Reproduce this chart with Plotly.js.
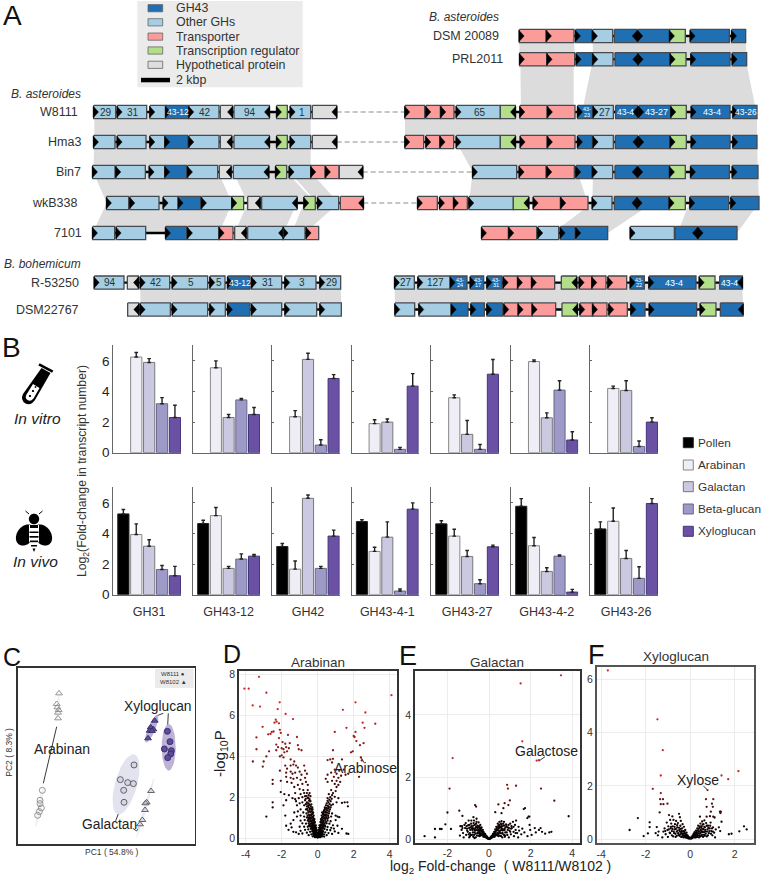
<!DOCTYPE html>
<html><head><meta charset="utf-8">
<script src="https://cdn.plot.ly/plotly-3.0.1.min.js"></script>
<style>html,body{margin:0;padding:0;background:#fff}#c{width:762px;height:878px}</style></head>
<body><div id="c"></div>
<script>
// ---------- Panel A: gene clusters [start, end, type, label, direction]
const DSM20089_R=[[415,495,'T','',1],[497,579,'T','',1],[584,632,'G','',1],[635,695,'O','',1],[700,768,'G','',-1],[771,866,'G','',1],[866,913,'R','',1],[928,1045,'G','',1],[1052,1094,'G','',1]];
const PRL2011_R=[[416,497,'T','',1],[499,581,'T','',1],[586,634,'G','',1],[636,696,'O','',1],[702,770,'G','',-1],[772,868,'G','',1],[868,915,'R','',1],[930,1047,'G','',1],[1054,1097,'G','',1]];
const W8111_L=[[281,347,'O','29',1],[352,440,'O','31',1],[450,497,'O','',1],[497,565,'G','43-12',1],[567,657,'O','42',1],[661,697,'H','',-1],[702,808,'O','94',-1],[830,862,'R','',1],[871,932,'O','1',1],[937,1010,'H','',-1]];
const W8111_R=[[72,131,'T','',1],[135,178,'T','',1],[180,219,'T','',1],[226,358,'O','65',1],[358,403,'R','',-1],[417,498,'T','',1],[500,582,'T','',1],[590,636,'G','43-<br>23',1],[637,697,'O','27',1],[704,770,'G','43-4',-1],[774,870,'G','43-27',1],[870,916,'R','',1],[931,1047,'G','43-4',1],[1056,1128,'G','43-26',1]];
const Hma3_L=[[281,345,'O','',1],[352,438,'O','',1],[450,495,'O','',1],[495,563,'G','',1],[567,657,'O','',1],[661,695,'H','',-1],[702,808,'O','',-1],[830,862,'R','',1],[871,932,'O','',1],[937,1010,'H','',-1]];
const Hma3_R=[[72,128,'T','',1],[135,176,'T','',1],[178,218,'T','',1],[226,358,'O','',1],[358,403,'R','',-1],[418,498,'T','',1],[500,582,'T','',1],[590,634,'G','',1],[637,697,'O','',1],[703,770,'G','',-1],[774,868,'G','',1],[868,916,'R','',1],[931,1047,'G','',1],[1056,1128,'G','',1]];
const Bin7_L=[[278,345,'O','',1],[348,436,'O','',1],[448,495,'O','',1],[495,560,'G','',1],[563,653,'O','',1],[658,693,'H','',-1],[700,806,'O','',-1],[827,860,'R','',1],[868,932,'O','',1],[933,975,'T','',1],[977,1017,'T','',1],[1018,1088,'H','',-1]];
const Bin7_R=[[275,407,'O','',1],[415,495,'T','',1],[498,580,'T','',1],[585,632,'G','',1],[635,695,'O','',1],[702,768,'G','',-1],[771,866,'G','',1],[866,913,'R','',1],[929,1045,'G','',1],[1054,1131,'G','',1]];
const wkB338_L=[[320,386,'O','',1],[390,477,'O','',1],[490,535,'O','',1],[535,602,'G','',1],[605,696,'O','',1],[696,731,'R','',1],[743,780,'H','',-1],[785,891,'O','',-1],[912,946,'R','',1],[953,1016,'O','',1],[1021,1090,'T','',-1]];
const wkB338_R=[[110,169,'T','',1],[176,218,'T','',1],[218,259,'T','',1],[264,397,'O','',1],[397,443,'R','',-1],[457,538,'T','',1],[540,621,'T','',1],[634,693,'O','',1],[700,767,'G','',-1],[769,865,'G','',1],[865,913,'R','',1],[927,1043,'G','',1],[1050,1134,'G','',1]];
const S7101_L=[[278,344,'O','',1],[349,437,'O','',1],[497,560,'G','',1],[563,657,'O','',1],[658,699,'T','',1],[704,738,'H','',-1],[743,850,'O','',-1],[850,915,'O','',1],[919,956,'T','',1]];
const S7101_R1=[[302,382,'T','',1],[384,467,'T','',1],[471,533,'O','',1],[538,582,'G','',1],[585,680,'G','',1]];
const S7101_R2=[[748,880,'O','',1],[883,949,'G','',-1],[952,1068,'G','',1]];
const R53250_L=[[283,372,'O','94',1],[382,415,'H','',-1],[421,509,'O','42',1],[517,623,'O','5',1],[630,675,'O','5',1],[683,750,'G','43-12',1],[755,845,'O','31',1],[855,948,'O','3',1],[960,1022,'O','29',1]];
const R53250_R=[[41,100,'O','27',1],[111,208,'O','127',1],[208,258,'G','43-<br>24',1],[268,308,'G','43-<br>17',1],[318,363,'G','43-<br>31',1],[367,410,'T','',1],[410,452,'T','',1],[452,521,'T','',1],[541,587,'R','',-1],[595,633,'T','',1],[633,675,'T','',1],[681,737,'T','',1],[748,790,'G','43-<br>22',1],[804,945,'G','43-4',1],[955,1002,'R','',1],[1016,1084,'G','43-4',-1]];
const DSM22767_L=[[383,416,'H','',-1],[421,511,'O','',1],[517,623,'O','',1],[630,676,'O','',1],[683,750,'G','',1],[755,845,'O','',1],[855,950,'O','',1],[960,1024,'O','',1]];
const DSM22767_R=[[42,101,'O','',1],[114,211,'O','',1],[211,261,'G','',1],[270,310,'G','',1],[318,365,'G','',1],[369,412,'T','',1],[412,454,'T','',1],[454,524,'T','',1],[543,589,'R','',-1],[597,635,'T','',1],[635,678,'T','',1],[684,739,'T','',1],[750,792,'G','',1],[805,947,'G','',1],[958,1005,'R','',1],[1018,1086,'G','',-1]];
const geneRows=[
 {n:'DSM 20089',y:36,nx:500,segs:[[DSM20089_R,1]]},
 {n:'PRL2011',y:59.3,nx:503.7,segs:[[PRL2011_R,1]]},
 {n:'W8111',y:112,nx:79,dash:1,segs:[[W8111_L,0],[W8111_R,1]]},
 {n:'Hma3',y:142,nx:81.7,dash:1,segs:[[Hma3_L,0],[Hma3_R,1]]},
 {n:'Bin7',y:172,nx:82,dash:1,segs:[[Bin7_L,0],[Bin7_R,1]]},
 {n:'wkB338',y:203,nx:79,dash:1,segs:[[wkB338_L,0],[wkB338_R,1]]},
 {n:'7101',y:233,nx:83,segs:[[S7101_L,0],[S7101_R1,1],[S7101_R2,1]]},
 {n:'R-53250',y:282.6,nx:80,segs:[[R53250_L,0],[R53250_R,1]]},
 {n:'DSM22767',y:309.5,nx:80,segs:[[DSM22767_L,0],[DSM22767_R,1]]}];
const geneTypes=['G','O','T','R','H'];
const geneNames=['GH43','Other GHs','Transporter','Transcription regulator','Hypothetical protein'];
const geneColors=['#1f6fb2','#a5cee4','#fb9b9a','#b3df8b','#dedede'];
// synteny bands: top row left/right and bottom row left/right
const bands=[
 [1,36,59.3,415,579,416,581],[1,36,59.3,635,1094,636,1097],
 [1,59.3,112,418,578,420,578],[1,59.3,112,636,1094,603,1126],
 [0,112,142,283,932,283,932],[1,112,142,72,1128,72,1128],
 [0,142,172,283,932,280,932],[1,142,172,226,1128,275,1131],
 [0,172,203,280,655,320,696],[0,172,203,700,860,743,946],[0,172,203,868,932,953,1016],
 [1,172,203,275,590,264,620],[1,172,203,636,1131,634,1134],
 [0,203,233,320,696,278,657],[0,203,233,743,891,704,850],[0,203,233,912,1016,875,915],
 [1,203,233,634,815,515,680],[1,203,233,925,1134,890,1068],
 [0,282.6,309.5,421,1022,421,1024],[1,282.6,309.5,41,1084,42,1086]];

// ---------- Panel B: bar heights and top of error whiskers
const substrates=['Pollen','Arabinan','Galactan','Beta-glucan','Xyloglucan'];
const barColors=['#000000','#efedf5','#cbc9e2','#9e9ac8','#6a51a3'];
const barEdges=['#222222','#888888','#777777','#66668a','#43357a'];
const genesB=['GH31','GH43-12','GH42','GH43-4-1','GH43-27','GH43-4-2','GH43-26'];
const vitroGH31=[null,6.25,5.9,3.2,2.3],vitroGH31top=[null,6.55,6.15,3.6,3.1];
const vitroGH4312=[null,5.55,2.3,3.45,2.5],vitroGH4312top=[null,6.0,2.5,3.55,2.95];
const vitroGH42=[null,2.35,6.1,0.5,4.85],vitroGH42top=[null,2.75,6.5,0.85,5.1];
const vitroGH4341=[null,1.9,2.0,0.22,4.35],vitroGH4341top=[null,2.15,2.2,0.35,5.17];
const vitroGH4327=[null,3.59,1.2,0.22,5.13],vitroGH4327top=[null,3.78,2.1,0.54,6.09];
const vitroGH4342=[null,5.96,2.28,4.09,0.83],vitroGH4342top=[null,6.07,2.6,4.7,1.37];
const vitroGH4326=[null,4.2,4.07,0.41,2.0],vitroGH4326top=[null,4.35,4.7,0.76,2.28];
const vivoGH31=[5.28,3.93,3.17,1.65,1.24],vivoGH31top=[5.57,4.63,3.59,1.91,1.85];
const vivoGH4312=[4.65,5.17,1.72,2.33,2.52],vivoGH4312top=[4.87,5.7,1.85,2.67,2.63];
const vivoGH42=[3.15,1.67,6.3,1.72,3.83],vivoGH42top=[3.35,2.2,6.52,1.85,4.22];
const vivoGH4341=[4.78,2.83,3.76,0.24,5.59],vivoGH4341top=[4.91,3.1,4.76,0.37,6.0];
const vivoGH4327=[4.63,3.83,2.5,0.72,3.13],vivoGH4327top=[4.83,4.28,2.89,0.98,3.24];
const vivoGH4342=[5.78,3.2,1.52,2.52,0.17],vivoGH4342top=[6.28,3.74,1.76,2.6,0.35];
const vivoGH4326=[4.3,4.8,2.37,1.07,5.96],vivoGH4326top=[4.76,5.67,2.89,1.83,6.28];
const vitroVals=[vitroGH31,vitroGH4312,vitroGH42,vitroGH4341,vitroGH4327,vitroGH4342,vitroGH4326];
const vitroTops=[vitroGH31top,vitroGH4312top,vitroGH42top,vitroGH4341top,vitroGH4327top,vitroGH4342top,vitroGH4326top];
const vivoVals=[vivoGH31,vivoGH4312,vivoGH42,vivoGH4341,vivoGH4327,vivoGH4342,vivoGH4326];
const vivoTops=[vivoGH31top,vivoGH4312top,vivoGH42top,vivoGH4341top,vivoGH4327top,vivoGH4342top,vivoGH4326top];
const barPanelsPx=[[113.3,181],[193.3,260],[272.3,339.7],[352,418.7],[431.3,499],[511.3,578.3],[590.3,658]];

// ---------- Panel C: PCA scores
const arabinanTri=[[177,190],[170,222],[172,232],[176,240],[174,248],[174,265]];
const arabinanCirc=[[127,481],[120,511],[120,521],[124,534],[118,545],[113,556]];
const galactanCirc=[[402,405],[361,449],[383,458],[400,461],[371,481],[372,517]];
const galactanTri=[[453,483],[440,517],[436,520],[435,540],[427,570],[420,583]];
const xyloCirc=[[502,304],[510,335],[493,357],[514,362],[512,372],[503,383]];
const xyloTri=[[464,272],[452,292],[460,298],[449,302],[456,303],[444,325]];
// centre x, centre y, semi-major, semi-minor, tilt degrees
const pcaEllipses=[[378,463,93,33,15.7,'#e3e3ef'],[436,533,93,5,16.5,'#ececf5'],[506,352,70,21,0,'#bdb3d6'],[455,296,45,11,23,'#b9afd3'],[174,228,48,4,5,'#f1f1f1'],[119,530,62,6,11,'#f1f1f1']];

// ---------- Panels D-F: volcano points [log2FC, -log10P]
const arabinanVolcano=[[-3.26,7.9],[-4.07,7.32],[-3.83,7.32],[-2.85,7.12],[-3.61,6.5],[-3.2,6.44],[-2.11,6.65],[-2.22,6.32],[-1.78,6.08],[-1.37,5.83],[-2.33,5.8],[-2.28,5.7],[-2.4,5.65],[-2.15,5.62],[-3.06,5.45],[-2.1,5.3],[-2.05,5.15],[-2.55,5.2],[-2.45,5.22],[-2.75,5.08],[-3.4,4.93],[-2.62,5.1],[-1.65,5.05],[-1.15,4.95],[-3.4,4.35],[-2.15,4.9],[-1.95,4.7],[-1.8,4.62],[-1.55,4.65],[-2.3,4.58],[-2.2,4.45],[-2.0,4.4],[-1.9,4.35],[-1.75,4.45],[-1.6,4.4],[-1.1,4.55],[-1.05,4.35],[-0.9,4.3],[-2.3,4.3],[-1.85,4.2],[-1.7,4.25],[-2.7,4.25],[-2.85,4.0],[-3.0,3.75],[-3.6,3.75],[-3.05,3.5],[-2.1,4.0],[-2.0,4.05],[-1.9,3.95],[-1.5,3.85],[-1.3,3.75],
[-1.8,3.55],[-1.7,3.4],[-1.5,3.55],[-1.35,3.6],[-1.2,3.55],[-1.1,3.45],[-0.75,3.55],[-0.7,3.3],[-2.1,3.3],[-1.75,3.2],[-1.5,3.25],[-1.4,3.15],[-1.25,3.2],[-1.0,3.25],[-0.9,3.1],[-0.6,3.15],[-1.75,3.0],[-1.5,2.95],[-1.35,2.9],[-1.15,2.95],[-0.95,2.85],[-0.7,2.95],[-2.5,2.85],[-2.5,2.65],[-2.05,2.8],[-1.7,2.75],[-1.45,2.7],[-1.1,2.6],[-0.85,2.65],[-0.65,2.75],[-0.55,2.6],[-1.3,2.5],[-1.0,2.4],[-0.8,2.35],[-0.55,2.35],[-0.45,2.2],[-2.05,2.25],[-1.85,2.15],[-1.6,2.1],[-1.25,2.2],[-0.95,2.15],[-0.75,2.2],[-0.6,2.2],[-0.5,2.1],[-1.4,1.95],[-1.25,1.9],[-1.05,1.95],[-0.85,2.0],[-0.7,2.05],[-0.55,1.95],[-0.45,1.9],[-0.4,2.05],
[-2.5,1.75],[-2.5,1.5],[-1.9,1.6],[-1.75,1.85],[-1.2,1.8],[-1.15,1.6],[-1.0,1.7],[-0.85,1.75],[-0.7,1.85],[-0.6,1.75],[-0.5,1.7],[-0.4,1.8],[-0.35,1.65],[-0.75,1.6],[-0.6,1.55],[-0.5,1.5],[-0.42,1.45],[-0.3,1.5],[-0.95,1.4],[-0.65,1.4],[-0.55,1.35],[-0.45,1.3],[-0.35,1.3],[-0.28,1.4],[-1.3,1.25],[-1.1,1.3],[-0.8,1.25],[-0.62,1.2],[-0.5,1.15],[-0.4,1.15],[-0.3,1.2],[-0.25,1.25],[-2.85,1.05],[-1.8,1.1],[-1.15,1.05],[-0.95,1.1],[-0.75,1.05],[-0.6,1.0],[-0.48,1.0],[-0.38,1.0],[-0.3,1.05],[-0.22,1.1],
[-1.35,0.88],[-0.95,0.85],[-0.72,0.88],[-0.55,0.85],[-0.42,0.88],[-0.32,0.85],[-0.24,0.9],[-0.18,0.92],[-1.5,0.7],[-0.85,0.72],[-0.65,0.7],[-0.5,0.72],[-0.38,0.7],[-0.28,0.72],[-0.2,0.75],[-0.15,0.78],[-1.75,0.6],[-1.45,0.52],[-1.0,0.55],[-0.75,0.55],[-0.55,0.55],[-0.42,0.56],[-0.3,0.58],[-0.22,0.6],[-0.15,0.6],[-0.1,0.62],[-1.62,0.4],[-1.35,0.3],[-1.2,0.28],[-0.95,0.35],[-0.7,0.4],[-0.52,0.42],[-0.38,0.45],[-0.26,0.46],[-0.18,0.45],[-0.12,0.48],[-0.08,0.5],[-1.05,0.2],[-0.85,0.22],[-0.6,0.26],[-0.42,0.3],[-0.3,0.32],[-0.2,0.32],[-0.14,0.34],[-0.09,0.36],[-0.05,0.38],[-0.5,0.14],[-0.35,0.18],[-0.25,0.2],[-0.18,0.22],[-0.12,0.22],[-0.07,0.24],[-0.03,0.26],[-0.28,0.08],[-0.2,0.1],[-0.14,0.12],[-0.09,0.13],[-0.05,0.14],[-0.02,0.16],[-0.15,0.04],[-0.1,0.05],[-0.06,0.06],[-0.03,0.07],[-0.01,0.03],
[0.01,0.03],[0.03,0.07],[0.06,0.06],[0.1,0.05],[0.15,0.04],[0.02,0.15],[0.05,0.14],[0.09,0.13],[0.14,0.12],[0.2,0.1],[0.28,0.08],[0.36,0.07],[0.03,0.26],[0.07,0.24],[0.12,0.22],[0.18,0.22],[0.25,0.2],[0.35,0.18],[0.5,0.14],[0.05,0.38],[0.09,0.36],[0.14,0.34],[0.2,0.32],[0.3,0.3],[0.42,0.28],[0.6,0.24],[0.8,0.2],[0.08,0.5],[0.12,0.48],[0.18,0.45],[0.26,0.46],[0.38,0.44],[0.52,0.4],[0.7,0.38],[0.95,0.32],[1.15,0.25],[1.6,0.22],[1.7,0.2],[0.1,0.62],[0.15,0.6],[0.22,0.6],[0.3,0.58],[0.42,0.56],[0.55,0.54],[0.75,0.5],[0.9,0.46],[1.35,0.45],[0.15,0.78],[0.2,0.75],[0.28,0.72],[0.38,0.7],[0.5,0.72],[0.65,0.7],[0.85,0.62],[1.1,0.6],[0.18,0.92],[0.24,0.9],[0.32,0.85],[0.42,0.88],[0.55,0.85],[0.72,0.82],[1.0,0.88],[0.22,1.1],[0.3,1.05],[0.38,1.0],[0.48,1.0],[0.6,1.0],[0.75,1.05],[1.0,1.1],[1.1,1.05],[1.2,1.02],[0.25,1.25],[0.3,1.2],[0.4,1.15],[0.5,1.15],[0.62,1.2],[0.8,1.2],[0.35,1.35],[0.45,1.3],[0.55,1.35],[0.68,1.4],[0.4,1.5],[0.5,1.48],[0.62,1.52],[0.75,1.6],[1.35,1.72],[1.5,1.75],[1.65,1.75],[1.68,1.55],[0.5,1.7],[0.6,1.75],[0.72,1.8],[0.85,1.65],[1.05,1.75],[0.55,1.95],[0.7,2.0],[0.8,2.1],[0.95,2.02],[1.15,1.95],[0.62,2.15],[0.85,2.2],[1.0,2.3],[0.75,2.35],[1.05,2.5],[1.15,2.6],[0.95,2.65],[1.25,2.75],[1.05,2.8],[0.8,2.8],[0.55,2.75],[0.45,2.9],[1.15,2.95],[0.9,3.0],[1.3,3.05],[1.55,3.1],[1.7,3.15],[2.3,3.0],[1.05,3.15],[0.75,3.2],[0.55,3.1],[0.95,3.35],[1.2,3.3],[1.45,3.35],[0.8,3.7],[0.55,3.82],[0.7,3.85],[0.85,3.88],[1.35,3.85],[2.4,3.95],[2.45,3.8],[1.85,4.2],[1.95,4.25],[0.85,4.3],[2.35,4.55],[2.15,4.75],[2.05,4.95],[2.1,5.2],[2.0,5.0],[0.95,5.2],[1.6,5.4],[2.55,4.65],[2.5,5.65],[2.6,5.4],[3.2,5.6],[2.65,6.15],[1.4,6.28],[2.1,6.65],[4.1,7.0]];
const arabinanVCore=[[-0.62,2.05],[-0.52,1.98],[-0.66,1.92],[-0.48,1.82],[-0.56,1.68],[-0.44,1.62],[-0.66,1.66],[-0.38,1.55],[-0.52,1.58],[-0.34,1.42],[-0.44,1.4],[-0.58,1.44],[-0.32,1.32],[-0.4,1.28],[-0.52,1.26],[-0.28,1.18],[-0.36,1.12],[-0.44,1.08],[-0.56,1.08],[-0.25,1.02],[-0.33,0.96],[-0.42,0.95],[-0.52,0.92],[-0.22,0.94],[-0.28,0.86],[-0.37,0.82],[-0.47,0.8],[-0.2,0.84],[-0.25,0.78],[-0.33,0.74],[-0.44,0.66],[-0.18,0.7],[-0.23,0.66],[-0.3,0.64],[-0.36,0.6],[-0.48,0.6],[-0.17,0.58],[-0.2,0.52],[-0.27,0.52],[-0.34,0.5],[-0.13,0.54],[-0.16,0.48],[-0.22,0.42],[-0.3,0.4],[-0.11,0.42],[-0.16,0.38],[-0.2,0.36],[-0.26,0.34],[-0.08,0.3],[-0.13,0.28],[-0.18,0.27],[-0.23,0.26],[-0.05,0.2],[-0.09,0.18],[-0.15,0.17],[-0.21,0.15],[-0.04,0.1],[-0.08,0.09],[-0.12,0.08],[-0.18,0.07],
[0.04,0.1],[0.08,0.09],[0.12,0.08],[0.18,0.07],[0.05,0.2],[0.1,0.18],[0.15,0.17],[0.22,0.15],[0.08,0.3],[0.13,0.28],[0.18,0.27],[0.24,0.26],[0.11,0.42],[0.16,0.38],[0.22,0.36],[0.28,0.36],[0.13,0.54],[0.18,0.52],[0.25,0.5],[0.33,0.48],[0.17,0.66],[0.23,0.65],[0.31,0.64],[0.4,0.62],[0.2,0.84],[0.26,0.8],[0.34,0.78],[0.46,0.78],[0.24,1.0],[0.32,0.95],[0.42,0.95],[0.54,0.94],[0.29,1.16],[0.36,1.1],[0.46,1.08],[0.58,1.08],[0.34,1.28],[0.42,1.24],[0.52,1.24],[0.64,1.3],[0.4,1.42],[0.48,1.4],[0.58,1.44],[0.72,1.5],[0.46,1.6],[0.56,1.58],[0.66,1.66],[0.55,1.82],[0.65,1.88],[0.78,1.92]];
const galactanVolcano=[[3.46,5.27],[1.52,5.01],[1.6,3.15],[-1.75,2.61],[2.29,2.53],[2.4,2.54],[-1.9,1.63],[0.87,1.75],[0.91,1.63],[1.3,1.72],[2.5,1.63],[3.14,1.24],[3.83,0.74],[1.0,1.25],[0.75,1.16],[0.93,1.1],[0.45,1.12],[0.69,1.0],[-0.67,1.1],[-0.62,1.05],[-1.43,0.92],[-2.0,0.86],[1.73,1.0],[1.67,0.97],[0.3,0.87],[-1.28,0.75],[0.6,0.84],[-0.75,0.71],[1.9,0.73],[1.94,0.73],[1.84,0.68],[-2.1,0.48],[-2.6,0.33],[-2.36,0.33],[-2.28,0.33],[-1.83,0.33],[-3.1,0.1],[-2.6,0.06],
[-1.4,0.12],[-1.32,0.3],[-1.3,0.42],[-1.25,0.2],[-1.22,0.06],[-1.15,0.36],[-1.12,0.52],[-1.1,0.14],[-1.05,0.28],[-1.0,0.45],[-0.98,0.6],[-0.95,0.06],[-0.92,0.2],[-0.9,0.38],[-0.86,0.5],[-0.85,0.6],[-0.82,0.14],[-0.8,0.3],[-0.76,0.44],[-0.72,0.6],[-0.7,0.04],[-0.7,0.22],[-0.66,0.36],[-0.62,0.5],[-0.6,0.66],[-0.58,0.12],[-0.55,0.28],[-0.52,0.4],[-0.5,0.54],[-0.48,0.2],[-0.45,0.34],[-0.42,0.46],[-0.4,0.12],[-0.38,0.26],[-0.36,0.38],[-0.33,0.2],[-0.3,0.3],[-0.28,0.12],[-0.26,0.22],[-0.22,0.16],[-0.2,0.08],[-0.18,0.14],[-0.15,0.06],[-0.12,0.1],[-0.1,0.04],[-0.07,0.05],[-0.04,0.02],[-0.02,0.01],
[0.02,0.01],[0.04,0.02],[0.07,0.05],[0.1,0.04],[0.12,0.1],[0.15,0.06],[0.18,0.14],[0.2,0.08],[0.22,0.18],[0.25,0.24],[0.28,0.12],[0.3,0.32],[0.32,0.2],[0.35,0.4],[0.38,0.28],[0.4,0.12],[0.42,0.5],[0.45,0.36],[0.48,0.2],[0.5,0.56],[0.52,0.42],[0.55,0.28],[0.58,0.1],[0.6,0.48],[0.62,0.34],[0.65,0.2],[0.7,0.44],[0.72,0.56],[0.75,0.3],[0.78,0.12],[0.82,0.48],[0.85,0.22],[0.9,0.38],[0.95,0.06],[0.98,0.28],[1.02,0.5],[1.05,0.16],[1.1,0.36],[1.15,0.56],[1.18,0.24],[1.2,0.1],[1.25,0.46],[1.28,0.3],[1.3,0.6],[1.35,0.2],[1.4,0.06],[1.42,0.4],[1.45,0.28],[1.55,0.16],[1.6,0.34],[1.7,0.22],[1.85,0.1],[1.95,0.46],[1.98,0.3],[2.05,0.14],[2.2,0.36],[2.25,0.22],[2.4,0.3],[2.48,0.36],[2.55,0.24],[2.7,0.18],[2.9,0.22],[3.0,0.24]];
const galactanVCore=[[-1.38,0.42],[-1.28,0.36],[-1.18,0.46],[-1.08,0.42],[-1.06,0.34],[-1.02,0.24],[-0.96,0.36],[-0.94,0.46],[-0.9,0.3],[-0.88,0.14],[-0.84,0.42],[-0.8,0.38],[-0.78,0.22],[-0.74,0.52],[-0.74,0.34],[-0.72,0.14],[-0.68,0.46],[-0.66,0.28],[-0.64,0.18],[-0.62,0.4],[-0.6,0.56],[-0.6,0.3],[-0.56,0.44],[-0.56,0.2],[-0.54,0.36],[-0.52,0.12],[-0.5,0.3],[-0.48,0.42],[-0.47,0.26],[-0.44,0.38],[-0.44,0.16],[-0.42,0.3],[-0.4,0.2],[-0.38,0.34],[-0.36,0.14],[-0.35,0.28],[-0.32,0.26],[-0.3,0.16],[-0.28,0.24],[-0.27,0.08],[-0.24,0.18],[-0.24,0.1],[-0.21,0.12],[-0.19,0.17],[-0.17,0.08],[-0.16,0.11],[-0.13,0.07],[-0.11,0.06],[-0.09,0.07],[-0.06,0.03],[-0.5,0.22],[-0.46,0.1],[-0.58,0.38],[-0.64,0.06],[-0.7,0.3],[-0.76,0.08],[-0.82,0.34],[-0.92,0.1],[-0.98,0.16],
[0.06,0.03],[0.09,0.07],[0.11,0.06],[0.13,0.07],[0.16,0.11],[0.17,0.08],[0.19,0.17],[0.21,0.12],[0.24,0.1],[0.24,0.18],[0.27,0.08],[0.28,0.24],[0.3,0.16],[0.32,0.26],[0.35,0.3],[0.36,0.14],[0.38,0.36],[0.4,0.2],[0.42,0.3],[0.44,0.16],[0.44,0.42],[0.47,0.28],[0.48,0.46],[0.5,0.36],[0.52,0.12],[0.54,0.4],[0.56,0.2],[0.56,0.5],[0.6,0.3],[0.6,0.58],[0.62,0.42],[0.64,0.18],[0.66,0.28],[0.68,0.5],[0.72,0.14],[0.74,0.34],[0.74,0.44],[0.78,0.22],[0.8,0.38],[0.84,0.42],[0.88,0.14],[0.9,0.3],[0.94,0.46],[0.96,0.36],[1.02,0.24],[1.06,0.34],[1.08,0.42],[1.18,0.4],[1.28,0.2],[0.5,0.24],[0.46,0.1],[0.58,0.38],[0.64,0.06],[0.7,0.3],[0.76,0.08]];
const xyloVolcano=[[-3.7,6.34],[-1.47,4.5],[-1.23,3.34],[-1.32,2.39],[-1.68,1.89],[-1.32,1.73],[-1.35,1.5],[-1.22,1.5],[-1.32,1.31],[-1.2,1.31],[-1.02,1.33],[-1.37,1.0],[-2.35,0.79],[-1.82,0.63],[-1.82,0.45],[-2.72,0.34],[-1.9,0.21],[-2.09,0.11],[2.17,2.55],[1.41,2.39],[1.71,2.25],[0.78,1.84],[0.71,1.5],[1.04,1.5],[0.98,1.33],[0.74,1.21],[1.02,1.21],[0.93,1.03],[1.34,1.03],[1.38,1.03],[1.36,0.98],[1.04,0.84],[1.1,0.81],[0.74,0.84],[0.89,0.86],[0.44,0.84],[2.42,0.48],[2.54,0.36],[2.21,0.29],[1.86,0.2],[1.74,0.18],[1.41,0.65],[1.29,0.44],[1.35,0.3],
[-1.5,0.45],[-1.55,0.22],[-1.45,0.14],[-1.42,0.28],[-1.25,0.06],[-1.2,0.28],[-1.15,0.4],[-1.1,0.18],[-1.05,0.62],[-1.02,0.34],[-1.0,0.08],[-0.98,0.48],[-0.95,0.9],[-0.92,0.24],[-0.9,0.72],[-0.88,0.4],[-0.85,0.58],[-0.82,0.14],[-0.82,0.3],[-0.8,0.85],[-0.78,0.48],[-0.75,0.72],[-0.72,0.22],[-0.7,0.36],[-0.68,0.56],[-0.65,0.08],[-0.63,0.68],[-0.6,0.28],[-0.58,0.44],[-0.55,0.6],[-0.52,0.16],[-0.5,0.95],[-0.48,0.34],[-0.46,0.82],[-0.44,0.5],[-0.42,0.68],[-0.4,0.24],[-0.38,0.08],[-0.36,0.4],[-0.34,0.56],[-0.32,0.16],[-0.3,0.3],[-0.28,0.46],[-0.26,0.1],[-0.24,0.22],[-0.22,0.34],[-0.2,0.06],[-0.18,0.16],[-0.16,0.24],[-0.14,0.08],[-0.12,0.14],[-0.1,0.04],[-0.08,0.08],[-0.06,0.03],[-0.04,0.05],[-0.02,0.02],
[0.02,0.02],[0.04,0.05],[0.06,0.03],[0.08,0.08],[0.1,0.05],[0.12,0.14],[0.14,0.08],[0.16,0.2],[0.18,0.12],[0.2,0.26],[0.22,0.06],[0.24,0.18],[0.26,0.32],[0.28,0.1],[0.3,0.24],[0.32,0.4],[0.34,0.14],[0.36,0.5],[0.38,0.3],[0.4,0.06],[0.42,0.42],[0.44,0.2],[0.46,0.58],[0.48,0.34],[0.5,0.12],[0.52,0.48],[0.54,0.66],[0.56,0.26],[0.58,0.38],[0.6,0.56],[0.62,0.16],[0.64,0.7],[0.66,0.44],[0.68,0.28],[0.72,0.6],[0.75,0.1],[0.78,0.36],[0.8,0.5],[0.84,0.22],[0.88,0.4],[0.92,0.62],[0.95,0.3],[1.0,0.14],[1.03,0.44],[1.08,0.24],[1.12,0.06],[1.15,0.36]];
const xyloVCore=[[-1.12,0.3],[-0.96,0.36],[-0.9,0.22],[-0.86,0.46],[-0.8,0.38],[-0.76,0.1],[-0.74,0.28],[-0.7,0.46],[-0.66,0.2],[-0.64,0.38],[-0.6,0.12],[-0.58,0.52],[-0.56,0.32],[-0.54,0.22],[-0.5,0.42],[-0.48,0.12],[-0.46,0.28],[-0.44,0.18],[-0.42,0.38],[-0.4,0.08],[-0.38,0.3],[-0.36,0.2],[-0.34,0.12],[-0.32,0.28],[-0.3,0.06],[-0.28,0.2],[-0.26,0.28],[-0.24,0.12],[-0.22,0.07],[-0.2,0.18],[-0.18,0.1],[-0.16,0.05],[-0.14,0.13],[-0.12,0.07],[-0.1,0.1],[-0.08,0.03],[-0.06,0.05],
[0.06,0.05],[0.08,0.03],[0.1,0.1],[0.12,0.07],[0.14,0.14],[0.16,0.06],[0.18,0.18],[0.2,0.1],[0.22,0.22],[0.24,0.12],[0.26,0.06],[0.28,0.26],[0.3,0.18],[0.32,0.32],[0.34,0.08],[0.36,0.22],[0.38,0.38],[0.4,0.14],[0.42,0.28],[0.44,0.48],[0.46,0.1],[0.48,0.24],[0.5,0.42],[0.52,0.3],[0.54,0.16],[0.56,0.54],[0.58,0.08],[0.6,0.36],[0.62,0.26],[0.64,0.46],[0.66,0.12],[0.68,0.34],[0.7,0.2],[0.74,0.5],[0.76,0.28],[0.8,0.14],[0.82,0.42],[0.86,0.3],[0.9,0.5],[0.94,0.2],[0.98,0.4],[1.02,0.28]];

// ---------- page helpers
const W=762,H=878;
const xDom=(a,b)=>[a/W,b/W], yDom=(top,bot)=>[1-bot/H,1-top/H];
const traces=[],annotations=[],shapes=[];
const layout={width:W,height:H,margin:{l:0,r:0,t:0,b:0},paper_bgcolor:'#fff',plot_bgcolor:'rgba(0,0,0,0)',showlegend:false,
 font:{family:'"Liberation Sans",Arial,sans-serif',color:'#222'},
 xaxis:{domain:[0,1],range:[0,W],visible:false,fixedrange:true},
 yaxis:{domain:[0,1],range:[H,0],visible:false,fixedrange:true}};
const txt=(x,y,text,size,o={})=>annotations.push(Object.assign({xref:'x',yref:'y',x,y,text,showarrow:false,xanchor:'center',yanchor:'middle',font:{size,color:o.color||'#222'},borderpad:0},o.a||{}));

// ---------- Panel A drawing
const px=(z,side)=>(z+(side?1143:0))/3;
const bandX=[],bandY=[];
bands.forEach(([s,y0,y1,a,b,c,d])=>{bandX.push(px(a,s),px(b,s),px(d,s),px(c,s),px(a,s),null);bandY.push(y0,y0,y1,y1,y0,null);});
traces.push({x:bandX,y:bandY,mode:'lines',fill:'toself',fillcolor:'#dcdcdc',line:{width:0},hoverinfo:'skip'});
const linkX=[],linkY=[],dashX=[],dashY=[],triX=[],triY=[];
const byType={};geneTypes.forEach(t=>byType[t]={x:[],y:[]});
geneRows.forEach(r=>{
 txt(r.nx,r.y,r.n,12.5,{a:{xanchor:'right'},color:'#333'});
 r.segs.forEach(([genes,side])=>{
  linkX.push(px(genes[0][0],side),px(genes[genes.length-1][1],side),null);linkY.push(r.y,r.y,null);
  genes.forEach(([a,b,t,label,dir])=>{
   const x0=px(a,side),x1=px(b,side),h=6.6;
   byType[t].x.push(x0,x1,x1,x0,x0,null);byType[t].y.push(r.y-h,r.y-h,r.y+h,r.y+h,r.y-h,null);
   const base=dir>0?x0:x1;
   triX.push(base-dir*0.5,base+dir*4.8,base-dir*0.5,base-dir*0.5,null);triY.push(r.y-5.8,r.y,r.y+5.8,r.y-5.8,null);
   if(label){
    const cx=(x0+x1)/2+dir*1.2,col=t==='G'?'#fff':'#233';
    if(label.includes('<br>')){
     const [l1,l2]=label.split('<br>');
     txt(cx,r.y-2.8,l1,5.5,{color:col});txt(cx,r.y+2.8,l2,5.5,{color:col});
    }else{
     txt(cx,r.y,label,label.startsWith('43')?((x1-x0)<26?8.5:9):10,{color:col});
    }
   }
  });
 });
 if(r.dash){const [a,b]=r.segs;dashX.push(px(a[0][a[0].length-1][1],a[1]),px(b[0][0][0],b[1]),null);dashY.push(r.y,r.y,null);}
});
traces.push({x:linkX,y:linkY,mode:'lines',line:{color:'#000',width:2.4},hoverinfo:'skip'});
traces.push({x:dashX,y:dashY,mode:'lines',line:{color:'#8a8a8a',width:1.1,dash:'5px,3px'},hoverinfo:'skip'});
geneTypes.forEach((t,i)=>traces.push({x:byType[t].x,y:byType[t].y,mode:'lines',fill:'toself',fillcolor:geneColors[i],line:{color:'#454a50',width:1.3},name:geneNames[i],hoverinfo:'skip'}));
traces.push({x:triX,y:triY,mode:'lines',fill:'toself',fillcolor:'#000',line:{color:'#000',width:0.5},hoverinfo:'skip'});
// legend of A
shapes.push({type:'rect',xref:'x',yref:'y',x0:137.3,x1:302.7,y0:1,y1:87.3,fillcolor:'#ebebeb',line:{width:0},layer:'below'});
[8.2,22.3,36.6,50.5,64.8].forEach((y,i)=>{
 shapes.push({type:'rect',xref:'x',yref:'y',x0:148,x1:162.7,y0:y-3.6,y1:y+3.6,fillcolor:geneColors[i],line:{color:'#666',width:0.8}});
 txt(175,y,geneNames[i],12.4,{a:{xanchor:'left'},color:'#333'});
});
shapes.push({type:'rect',xref:'x',yref:'y',x0:141,x1:170,y0:77.8,y1:82.3,fillcolor:'#000',line:{width:0}});
txt(175,80,'2 kbp',12.4,{a:{xanchor:'left'},color:'#333'});
txt(10,94.3,'<i>B. asteroides</i>',12,{a:{xanchor:'left'},color:'#333'});
txt(427.7,17,'<i>B. asteroides</i>',12,{a:{xanchor:'left'},color:'#333'});
txt(2.7,263.5,'<i>B. bohemicum</i>',12,{a:{xanchor:'left'},color:'#333'});

// ---------- Panel B drawing
let axN=2;
function barPanel(vals,tops,iPanel,top,bot,isBottom){
 const n=axN++, [a,b]=barPanelsPx[iPanel];
 const ax=n;
 layout['xaxis'+ax]={domain:xDom(a,b),anchor:'y'+ax,range:[-0.78,4.47],showline:true,linecolor:'#666',linewidth:1,showgrid:false,zeroline:false,fixedrange:true,
   tickmode:'array',tickvals:isBottom?[2]:[],ticktext:isBottom?[genesB[iPanel]]:[],showticklabels:isBottom,ticks:isBottom?'outside':'',ticklen:5,tickcolor:'rgba(0,0,0,0)',tickfont:{size:12.5,color:'#333'}};
 const yax={domain:yDom(top,bot),anchor:'x'+ax,range:[0,(bot-top)/15.3],showline:true,linecolor:'#666',linewidth:1,showgrid:false,zeroline:false,fixedrange:true,
   tickmode:'array',tickvals:[0,2,4,6],ticks:iPanel===0?'':'inside',ticklen:2,tickwidth:1,tickcolor:'#666',tickfont:{size:13.5,color:'#222'},showticklabels:iPanel===0};
 if(iPanel===0)yax.ticktext=['0','2','4','6'];
 layout['yaxis'+ax]=yax;
 traces.push({type:'bar',x:[0,1,2,3,4],y:vals,xaxis:'x'+ax,yaxis:'y'+ax,width:0.87,marker:{color:barColors,line:{color:barEdges,width:1}},
   error_y:{type:'data',symmetric:false,array:tops.map((t,i)=>t==null?null:t-vals[i]),arrayminus:[0,0,0,0,0],color:'#222',thickness:1.4,width:1.8},hoverinfo:'skip'});
}
genesB.forEach((g,i)=>barPanel(vitroVals[i],vitroTops[i],i,345,452.7,false));
genesB.forEach((g,i)=>barPanel(vivoVals[i],vivoTops[i],i,487.3,594.7,true));
annotations.push({xref:'x',yref:'y',x:83,y:471,text:'Log<sub>2</sub>(Fold-change in transcript number)',textangle:-90,showarrow:false,font:{size:12.2,color:'#333'}});
[442.7,465,486.7,509,531.3].forEach((y,i)=>{
 shapes.push({type:'rect',xref:'x',yref:'y',x0:683.3,x1:693.3,y0:y-5,y1:y+5,fillcolor:barColors[i],line:{color:barEdges[i],width:1}});
 txt(696.7,y,substrates[i],11.8,{a:{xanchor:'left'},color:'#333'});
});
txt(37,418,'<i>In vitro</i>',15.5,{color:'#222'});
txt(35,561.7,'<i>In vivo</i>',15.5,{color:'#222'});
// icons
const ellipsePath=(cx,cy,a,b,deg)=>{let d='';for(let i=0;i<=40;i++){const t=i/40*2*Math.PI,r=deg*Math.PI/180,ex=a*Math.cos(t),ey=b*Math.sin(t);d+=(i?'L':'M')+(cx+ex*Math.cos(r)-ey*Math.sin(r)).toFixed(2)+','+(cy+ex*Math.sin(r)+ey*Math.cos(r)).toFixed(2);}return d+'Z';};
const icon=(path,fill,lw=0,lc='#000')=>shapes.push({type:'path',xref:'x',yref:'y',path,fillcolor:fill,line:{width:lw,color:lc}});
icon('M39,364.3 L52.7,371.7','#000',2.6);
icon('M41.5,368 L50.5,373 L35,400 Q31,406 25.5,403.5 Q20,400 23,394 Z','#000');
icon('M33,384 L39.5,388 L33.5,398.5 Q30.5,402 27.5,400 Q24.5,398 26.5,394.5 Z','#fff');
icon(ellipsePath(33,391,1.1,1.1,0),'#000');icon(ellipsePath(30,396,1.1,1.1,0),'#000');icon(ellipsePath(35.5,387,0.9,0.9,0),'#000');
icon(ellipsePath(34,519,5.2,5.2,0),'#000');
icon('M29,514 L25.5,511','#000',1);icon('M39,514 L42.5,511','#000',1);
icon(ellipsePath(25.5,535,8.5,11.5,35),'#000');icon(ellipsePath(42.5,535,8.5,11.5,-35),'#000');
icon('M29,525 L39,525 L39,541 L36,549 L32,549 L29,541 Z','#fff');
icon('M30,525 L38,525 L38,528 L30,528 Z','#000');icon('M29.5,531.5 L38.5,531.5 L38.5,533 L29.5,533 Z','#000');
icon('M29.5,536 L38.5,536 L38.5,537.7 L29.5,537.7 Z','#000');icon('M30,540.5 L38,540.5 L38,542.2 L30,542.2 Z','#000');
icon('M31,545 L37,545 L37,546.5 L31,546.5 Z','#000');icon('M32.5,548.5 L35.5,548.5 L34,552 Z','#000');

// ---------- Panel C drawing
const nC=axN++;
layout['xaxis'+nC]={domain:xDom(18,194.7),anchor:'y'+nC,range:[54,584],showline:true,mirror:true,linecolor:'#333',linewidth:1.6,showgrid:false,zeroline:false,showticklabels:false,ticks:'',fixedrange:true};
layout['yaxis'+nC]={domain:yDom(668,844.3),anchor:'x'+nC,range:[643,114],showline:true,mirror:true,linecolor:'#333',linewidth:1.6,showgrid:false,zeroline:false,showticklabels:false,ticks:'',fixedrange:true};
pcaEllipses.forEach(([cx,cy,a,b,deg,col])=>{
 const xs=[],ys=[],r=deg*Math.PI/180;
 for(let i=0;i<=48;i++){const t=i/48*2*Math.PI,u=b*Math.cos(t),v=a*Math.sin(t);xs.push(cx+u*Math.cos(r)+v*Math.sin(r));ys.push(cy+u*Math.sin(r)-v*Math.cos(r));}
 traces.push({x:xs,y:ys,xaxis:'x'+nC,yaxis:'y'+nC,mode:'lines',fill:'toself',fillcolor:col,line:{width:0},hoverinfo:'skip'});
});
[[arabinanTri,'triangle-up','rgba(255,255,255,0)','#8a8a8a'],[arabinanCirc,'circle','rgba(255,255,255,0)','#8a8a8a'],
 [galactanCirc,'circle','rgba(205,203,226,0.6)','#555'],[galactanTri,'triangle-up','rgba(205,203,226,0.6)','#555'],
 [xyloCirc,'circle','#5f4a9f','#332a66'],[xyloTri,'triangle-up','#5f4a9f','#332a66']].forEach(([p,sym,f,l])=>{
 traces.push({x:p.map(d=>d[0]),y:p.map(d=>d[1]),xaxis:'x'+nC,yaxis:'y'+nC,mode:'markers',marker:{symbol:sym,size:6,color:f,line:{color:l,width:0.9}},hoverinfo:'skip'});
});
shapes.push({type:'rect',xref:'x',yref:'y',x0:155,x1:193.6,y0:669,y1:688,fillcolor:'#ebebeb',line:{width:0},layer:'below'});
txt(173,674.3,'W8111 ●',6,{color:'#333'});txt(173,682.3,'W8102 ▲',6,{color:'#333'});
txt(62,749,'Arabinan',14);txt(158,706,'Xyloglucan',13.8);txt(109,824,'Galactan',13.8);
txt(111.7,852,'PC1 ( 54.8% )',8.5,{color:'#333'});
annotations.push({xref:'x',yref:'y',x:9,y:752.7,text:'PC2 ( 8.3% )',textangle:-90,showarrow:false,font:{size:8.5,color:'#333'}});
const leaders=[[[56.7,726.7],[43.3,783.3]],[[168.3,713.3],[167.7,725]],[[163.3,713.3],[156,716]],[[118.3,814],[115.7,820.7]],[[132.7,828.3],[136.7,831],[140,826]],[[360.7,756.7],[364,762.7]],[[539,761],[545,756.7]],[[703.3,786],[707.7,790]]];
const lx=[],ly=[];leaders.forEach(l=>{l.forEach(p=>{lx.push(p[0]);ly.push(p[1]);});lx.push(null);ly.push(null);});
traces.push({x:lx,y:ly,mode:'lines',line:{color:'#222',width:0.9},hoverinfo:'skip'});

// ---------- Panels D, E, F drawing
function volcano(points,box,xr,yr,xt,yt,cmax,borderCol){
 const n=axN++;
 const common={showline:true,mirror:true,linecolor:borderCol,linewidth:1.8,showgrid:true,gridcolor:'#ececec',gridwidth:1,zeroline:false,fixedrange:true,ticks:'',tickfont:{size:10.5,color:'#333'},tickmode:'array'};
 layout['xaxis'+n]=Object.assign({},common,{domain:xDom(box[0],box[1]),anchor:'y'+n,range:xr,tickvals:xt,ticktext:xt.map(String)});
 layout['yaxis'+n]=Object.assign({},common,{domain:yDom(box[2],box[3]),anchor:'x'+n,range:yr,tickvals:yt,ticktext:yt.map(String)});
 traces.push({x:points.map(p=>p[0]),y:points.map(p=>p[1]),xaxis:'x'+n,yaxis:'y'+n,mode:'markers',
  marker:{size:2.3,color:points.map(p=>p[1]),cmin:0,cmax:cmax,colorscale:[[0,'#000000'],[0.3,'#1c0505'],[0.55,'#5e1111'],[1,'#c92a2a']],line:{width:0},showscale:false},hoverinfo:'skip'});
}
volcano(arabinanVolcano.concat(arabinanVCore),[239,396.7,670.7,843.3],[-4.37,4.39],[-0.26,8.2],[-4,-2,0,2,4],[0,2,4,6,8],6,'#333');
volcano(galactanVolcano.concat(galactanVCore),[415,580,670.7,843],[-3.56,4.375],[-0.12,5.42],[-2,0,2,4],[0,2,4],2.6,'#333');
volcano(xyloVolcano.concat(xyloVCore),[596.7,754,666.7,843.3],[-4.2,2.87],[-0.16,6.48],[-4,-2,0,2],[0,2,4,6],2.4,'#555');
txt(318,662,'Arabinan',13.5,{color:'#333'});txt(496.7,662.7,'Galactan',13.5,{color:'#333'});txt(675.7,656.7,'Xyloglucan',13.5,{color:'#333'});
txt(365,768,'Arabinose',14);txt(546.7,751,'Galactose',14);txt(697.7,780,'Xylose',14);
annotations.push({xref:'x',yref:'y',x:220,y:754,text:'-log<sub>10</sub>P',textangle:-90,showarrow:false,font:{size:15,color:'#222'}});
txt(500,867,'log<sub>2</sub> Fold-change  ( W8111/W8102 )',14,{color:'#222'});
// panel letters
[['A',2,15,28],['B',1,347,28],['C',2,657,25],['D',222,654,25],['E',398,656,27],['F',587,655,27]].forEach(([t,x,y,s])=>txt(x,y,t,s,{a:{xanchor:'left'},color:'#111'}));

layout.annotations=annotations;layout.shapes=shapes;
Plotly.newPlot('c',traces,layout,{staticPlot:true,displayModeBar:false});
</script></body></html>
